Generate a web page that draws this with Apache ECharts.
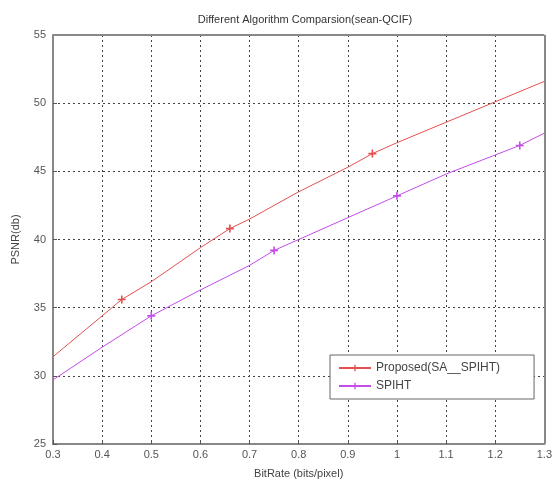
<!DOCTYPE html>
<html>
<head>
<meta charset="utf-8">
<script src="https://cdn.jsdelivr.net/npm/echarts@6/dist/echarts.min.js"></script>
<style>
  html, body { margin: 0; padding: 0; background: #fff; }
  #chart { width: 555px; height: 488px; }
</style>
</head>
<body>
<div id="chart"></div>
<script>
// values
var xTicks = [0.3, 0.4, 0.5, 0.6, 0.7, 0.8, 0.9, 1.0, 1.1, 1.2, 1.3];
var yTicks = [25, 30, 35, 40, 45, 50, 55];

var proposedX = [0.3, 0.4, 0.44, 0.5, 0.6, 0.66, 0.7, 0.8, 0.9, 0.95, 1.0, 1.1, 1.2, 1.3];
var proposedY = [31.4, 34.4, 35.6, 36.9, 39.4, 40.8, 41.5, 43.5, 45.3, 46.3, 47.1, 48.6, 50.1, 51.6];
var proposedMarked = [0.44, 0.66, 0.95];

var spihtX = [0.3, 0.4, 0.5, 0.6, 0.7, 0.75, 0.8, 0.9, 1.0, 1.1, 1.2, 1.25, 1.3];
var spihtY = [29.7, 32.1, 34.4, 36.3, 38.1, 39.2, 40.0, 41.6, 43.2, 44.8, 46.2, 46.9, 47.8];
var spihtMarked = [0.5, 0.75, 1.0, 1.25];

var plus = 'path://M4,0L6,0L6,4L10,4L10,6L6,6L6,10L4,10L4,6L0,6L0,4L4,4Z';

function build(xs, ys, marked) {
    return xs.map(function (x, i) {
        var item = { value: [x, ys[i]] };
        if (marked.indexOf(x) < 0) item.symbol = 'none';
        return item;
    });
}

var chart = echarts.init(document.getElementById('chart'));
var font = 'Liberation Sans, Arial, sans-serif';

chart.setOption({
    animation: false,
    title: {
        text: 'Different Algorithm Comparsion(sean-QCIF)',
        left: 300, top: 9, textAlign: 'center',
        textStyle: { fontSize: 11, fontWeight: 'normal', color: '#333', fontFamily: font }
    },
    grid: { left: 53, right: 9, top: 35, bottom: 44 },
    legend: {
        orient: 'vertical',
        left: 330, top: 355,
        itemWidth: 32, itemHeight: 8,
        itemGap: 6,
        padding: [7, 34, 7, 8],
        backgroundColor: '#fff',
        borderColor: '#666', borderWidth: 1,
        textStyle: { fontSize: 12, color: '#444', fontFamily: font },
        data: ['Proposed(SA__SPIHT)', 'SPIHT']
    },
    xAxis: {
        type: 'value', min: 0.3, max: 1.3, interval: 0.1,
        name: 'BitRate (bits/pixel)', nameLocation: 'middle', nameGap: 24,
        nameTextStyle: { fontSize: 11, color: '#444', fontFamily: font },
        axisLine: { show: true, lineStyle: { color: '#888', width: 2 } },
        axisTick: { inside: true, length: 4, lineStyle: { color: '#555' } },
        axisLabel: {
            fontSize: 11, color: '#555', fontFamily: font, margin: 5,
            formatter: function (v) { return String(+v.toFixed(1)); }
        },
        splitLine: { show: true, lineStyle: { color: '#444', type: [2, 3], width: 1 } }
    },
    yAxis: {
        type: 'value', min: 25, max: 55, interval: 5,
        name: 'PSNR(db)', nameLocation: 'middle', nameGap: 32,
        nameTextStyle: { fontSize: 11, color: '#444', fontFamily: font },
        axisLine: { show: true, lineStyle: { color: '#888', width: 2 } },
        axisTick: { inside: true, length: 4, lineStyle: { color: '#555' } },
        axisLabel: { fontSize: 11, color: '#555', fontFamily: font, margin: 7 },
        splitLine: { show: true, lineStyle: { color: '#444', type: [2, 3], width: 1 } }
    },
    series: [
        {
            name: 'Proposed(SA__SPIHT)', type: 'line',
            symbol: plus, symbolSize: 8,
            itemStyle: { color: '#e3504f' },
            lineStyle: { color: '#e3504f', width: 1 },
            data: build(proposedX, proposedY, proposedMarked),
            markLine: {
                silent: true, symbol: 'none', label: { show: false },
                lineStyle: { color: '#888', width: 2, type: 'solid' },
                data: [{ yAxis: 55 }, { xAxis: 1.3 }]
            }
        },
        {
            name: 'SPIHT', type: 'line',
            symbol: plus, symbolSize: 8,
            itemStyle: { color: '#c44ce8' },
            lineStyle: { color: '#c44ce8', width: 1 },
            data: build(spihtX, spihtY, spihtMarked)
        }
    ]
});
</script>
</body>
</html>
